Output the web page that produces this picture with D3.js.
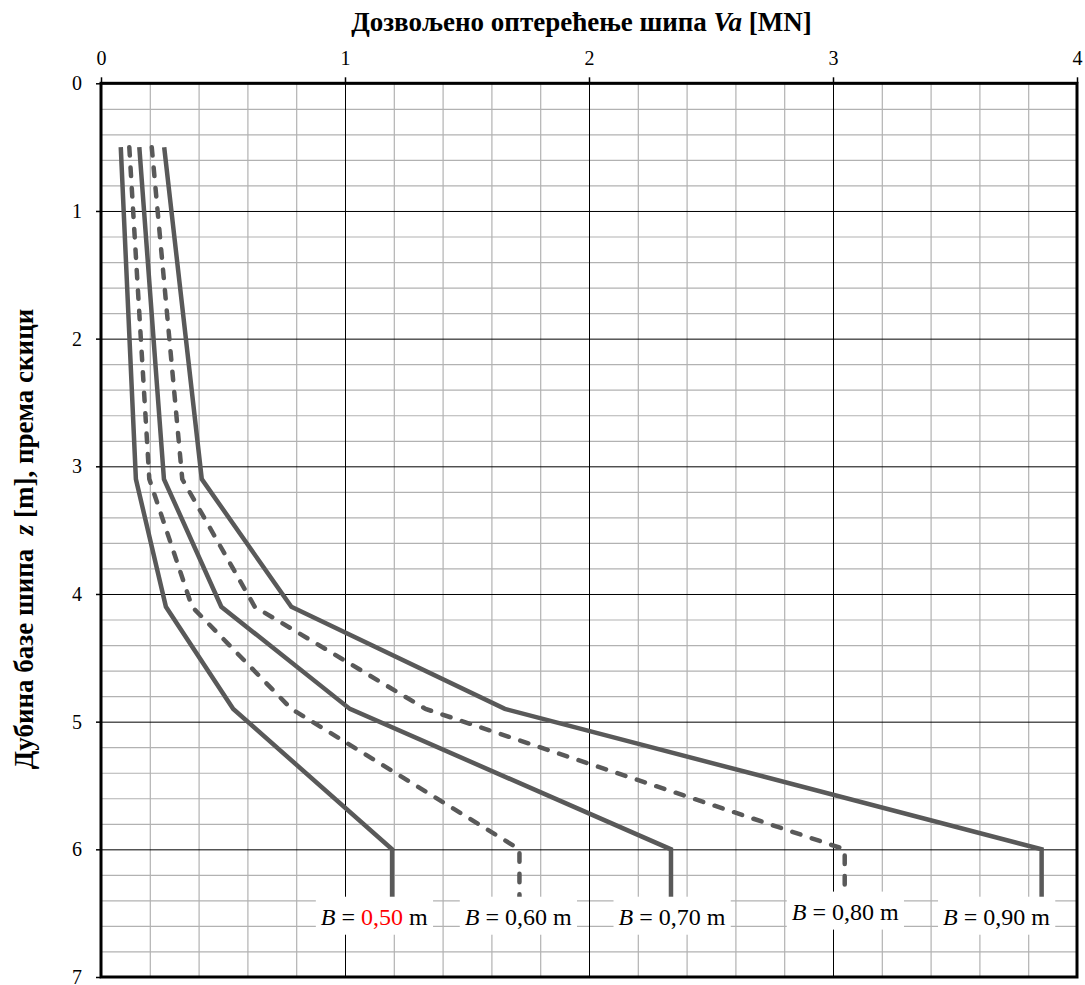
<!DOCTYPE html>
<html><head><meta charset="utf-8">
<script src="https://cdn.jsdelivr.net/npm/d3@7"></script>
<style>body{margin:0;background:#fff}svg{display:block;font-family:"Liberation Serif","Times New Roman",serif}</style>
</head><body><svg id="c" width="1085" height="985"></svg>
<script>
// ---- data ----
const depths = [0.5, 3.1, 4.1, 4.9, 6.0, 6.45];           // z [m]
const widthLabels = ["0,50", "0,60", "0,70", "0,80", "0,90"]; // B [m]
const vaB050 = [0.081, 0.143, 0.266, 0.542, 1.193, 1.193];
const vaB060 = [0.116, 0.198, 0.373, 0.780, 1.715, 1.715];
const vaB070 = [0.157, 0.258, 0.493, 1.020, 2.336, 2.336];
const vaB080 = [0.208, 0.333, 0.630, 1.330, 3.048, 3.048];
const vaB090 = [0.259, 0.413, 0.780, 1.655, 3.855, 3.855];
const dashed = [false, true, false, true, false];
const xTicks = [0, 1, 2, 3, 4];
const yTicks = [0, 1, 2, 3, 4, 5, 6, 7];
const labelVa = [1.12, 1.71, 2.34, 3.05, 3.67];
const labelZ = [6.52, 6.52, 6.52, 6.48, 6.52];

const series = [vaB050, vaB060, vaB070, vaB080, vaB090];

// ---- layout ----
const svg = d3.select("#c");
const X0 = 101, X1 = 1077, Y0 = 83.3, Y1 = 977;
const x = d3.scaleLinear().domain([0, 4]).range([X0, X1]);
const y = d3.scaleLinear().domain([0, 7]).range([Y0, Y1]);
const W = X1 - X0, H = Y1 - Y0;

const isInt = v => Math.abs(v - Math.round(v)) < 1e-6;
const minorX = d3.range(0, 4.0001, 0.2).filter(v => !isInt(v));
const minorY = d3.range(0, 7.0001, 0.2).filter(v => !isInt(v));

function gridStyle(g, color, w) {
  g.select(".domain").remove();
  g.selectAll("line").attr("stroke", color).attr("stroke-width", w);
}
// minor grid
svg.append("g").attr("transform", `translate(0,${Y0})`)
  .call(d3.axisBottom(x).tickValues(minorX).tickSize(H).tickFormat(""))
  .call(g => gridStyle(g, "#b2b2b2", 1.2));
svg.append("g").attr("transform", `translate(${X0},0)`)
  .call(d3.axisRight(y).tickValues(minorY).tickSize(W).tickFormat(""))
  .call(g => gridStyle(g, "#b2b2b2", 1.2));
// major grid
svg.append("g").attr("transform", `translate(0,${Y0})`)
  .call(d3.axisBottom(x).tickValues(xTicks).tickSize(H).tickFormat(""))
  .call(g => gridStyle(g, "#000", 1));
svg.append("g").attr("transform", `translate(${X0},0)`)
  .call(d3.axisRight(y).tickValues(yTicks).tickSize(W).tickFormat(""))
  .call(g => gridStyle(g, "#000", 1));

// axes
const ax = svg.append("g").attr("transform", `translate(0,${Y0})`)
  .call(d3.axisTop(x).tickValues(xTicks).tickSize(6).tickPadding(12.5).tickFormat(d3.format("d")));
const ay = svg.append("g").attr("transform", `translate(${X0},0)`)
  .call(d3.axisLeft(y).tickValues(yTicks).tickSize(5).tickPadding(14).tickFormat(d3.format("d")));
[ax, ay].forEach(g => {
  g.attr("font-family", null).attr("font-size", null);
  g.select(".domain").remove();
  g.selectAll("line").attr("stroke", "#000").attr("stroke-width", 1.5);
  g.selectAll("text").attr("font-size", 20).attr("fill", "#000");
});

// curves
const line = d3.line().x(d => x(d.v)).y(d => y(d.z));
series.forEach((vals, i) => {
  const pts = vals.map((v, k) => ({v, z: depths[k]}));
  svg.append("path").datum(pts)
    .attr("d", line)
    .attr("fill", "none")
    .attr("stroke", "#595959")
    .attr("stroke-width", 4.5)
    .attr("stroke-linejoin", "miter")
    .attr("stroke-linecap", dashed[i] ? "round" : "butt")
    .attr("stroke-dasharray", dashed[i] ? "8.5,12" : null);
});

// frame
svg.append("rect").attr("x", X0).attr("y", Y0).attr("width", W).attr("height", H)
  .attr("fill", "none").attr("stroke", "#000").attr("stroke-width", 3);

// labels
widthLabels.forEach((lab, i) => {
  const g = svg.append("g");
  const t = g.append("text")
    .attr("x", x(labelVa[i])).attr("y", y(labelZ[i])).attr("dy", "0.38em")
    .attr("text-anchor", "middle").attr("font-size", 24).attr("fill", "#000")
    .style("white-space", "pre");
  t.append("tspan").attr("font-style", "italic").text("B");
  t.append("tspan").text(" = ");
  t.append("tspan").attr("fill", i === 0 ? "#ff0000" : "#000").text(lab);
  t.append("tspan").text(" m");
  const bb = t.node().getBBox();
  g.insert("rect", "text")
    .attr("x", bb.x - 5).attr("y", y(labelZ[i]) - 19)
    .attr("width", bb.width + 10).attr("height", 38)
    .attr("fill", "#fff");
});

// title
const title = svg.append("text").attr("x", 581.5).attr("y", 31)
  .attr("text-anchor", "middle").attr("font-weight", "bold").attr("font-size", 27)
  .style("white-space", "pre");
title.append("tspan").text("Дозвољено оптерећење шипа ");
title.append("tspan").attr("font-style", "italic").text("Va");
title.append("tspan").text(" [MN]");

// y label
const yl = svg.append("text").attr("transform", `translate(33,539) rotate(-90)`)
  .attr("text-anchor", "middle").attr("font-weight", "bold").attr("font-size", 27)
  .style("white-space", "pre");
yl.append("tspan").text("Дубина базе шипа  ");
yl.append("tspan").attr("font-style", "italic").text("z");
yl.append("tspan").text(" [m], према скици");
</script>
</body></html>
